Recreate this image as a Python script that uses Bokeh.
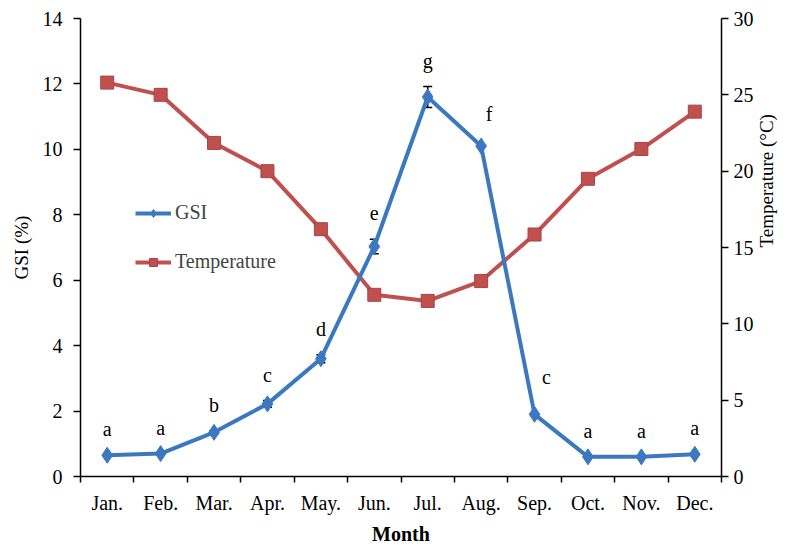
import math
import numpy as np
from bokeh.plotting import figure
from bokeh.models import (Range1d, LinearAxis, FixedTicker, ColumnDataSource, Whisker,
                          TeeHead, LabelSet, Legend, LegendItem, Label)
from bokeh.embed import file_html
from bokeh.resources import INLINE

# ---- data ----
months = ["Jan.", "Feb.", "Mar.", "Apr.", "May.", "Jun.", "Jul.", "Aug.", "Sep.", "Oct.", "Nov.", "Dec."]
gsi = [0.65, 0.70, 1.35, 2.22, 3.60, 7.03, 11.60, 10.10, 1.90, 0.60, 0.60, 0.68]
gsi_err = [0.0, 0.0, 0.05, 0.10, 0.12, 0.22, 0.32, 0.0, 0.0, 0.0, 0.0, 0.0]
temperature = [25.8, 25.0, 21.85, 20.0, 16.2, 11.9, 11.5, 12.8, 15.85, 19.5, 21.45, 23.9]
letters = ["a", "a", "b", "c", "d", "e", "g", "f", "c", "a", "a", "a"]

# ---- styling ----
FONT = "Liberation Serif"
BLUE = "#3C78C0"
RED = "#C0504D"
label_dx = [0, 0, 0, 0, 0, 0, 0, 8, 12, 0, 0, 0]
label_dy = [19, 19, 19, 19, 19, 19, 19, 25, 30, 19, 19, 19]

x = np.arange(len(months)) + 0.5
src = ColumnDataSource(dict(
    x=x, gsi=gsi, temp=temperature, err=gsi_err,
    lo=np.array(gsi) - np.array(gsi_err), hi=np.array(gsi) + np.array(gsi_err),
    letter=letters, dx=label_dx, dy=label_dy,
))

W, H = 790, 547
p = figure(width=W, height=H, output_backend="svg", toolbar_location=None,
           x_range=Range1d(0, 12), y_range=Range1d(0, 14),
           min_border_left=80, min_border_right=W - 722, min_border_top=18,
           min_border_bottom=H - 478)
p.extra_y_ranges = {"temp": Range1d(0, 30)}
p.outline_line_color = None
p.grid.grid_line_color = None
p.background_fill_color = "white"

# temperature
tl = p.line("x", "temp", source=src, y_range_name="temp", line_color=RED, line_width=4)
ts = p.scatter("x", "temp", source=src, y_range_name="temp", marker="square", size=13,
               fill_color=RED, line_color="#A94442")
# gsi
gl = p.line("x", "gsi", source=src, line_color=BLUE, line_width=4)
wh = Whisker(source=src, base="x", upper="hi", lower="lo", line_color="black", line_width=1.5,
             upper_head=TeeHead(size=9, line_color="black", line_width=1.5),
             lower_head=TeeHead(size=9, line_color="black", line_width=1.5))
p.add_layout(wh)
gs = p.scatter("x", "gsi", source=src, marker="diamond", size=16, fill_color=BLUE, line_color=BLUE)

labels = LabelSet(x="x", y="hi", text="letter", source=src, x_offset="dx", y_offset="dy",
                  text_align="center", text_baseline="alphabetic",
                  text_font=FONT, text_font_size="20px", text_color="black")
p.add_layout(labels)

# axes
xa = p.xaxis[0]
xa.ticker = FixedTicker(ticks=list(x), minor_ticks=list(range(13)))
xa.major_label_overrides = {float(v): m for v, m in zip(x, months)}
xa.major_tick_out = 0
xa.major_tick_in = 0
xa.minor_tick_out = 6
xa.minor_tick_in = 0
xa.axis_label = "Month"

ya = p.yaxis[0]
ya.ticker = FixedTicker(ticks=list(range(0, 15, 2)))
ya.axis_label = "GSI (%)"

ra = LinearAxis(y_range_name="temp", ticker=FixedTicker(ticks=list(range(0, 31, 5))))
p.add_layout(ra, "right")

for ax in [xa, ya, ra]:
    ax.axis_line_color = "black"
    ax.axis_line_width = 1.5
    ax.major_tick_line_color = "black"
    ax.minor_tick_line_color = "black"
    ax.major_tick_line_width = 1.5
    ax.minor_tick_line_width = 1.5
    ax.major_label_text_font = FONT
    ax.major_label_text_font_size = "20px"
    ax.major_label_text_color = "black"
    ax.axis_label_text_font = FONT
    ax.axis_label_text_font_size = "19px"
    ax.axis_label_text_color = "black"
    ax.axis_label_text_font_style = "normal"
xa.axis_label_text_font_style = "bold"
xa.axis_label_text_font_size = "20px"
for ax in [ya, ra]:
    ax.minor_tick_line_color = None
    ax.major_tick_out = 7
    ax.major_tick_in = 0
ya.major_label_standoff = 11
ra.major_label_standoff = 5
xa.major_label_standoff = 9
ya.axis_label_standoff = 8
xa.axis_label_standoff = 6

TEMP_TITLE = "Temperature (°C)"
if "axis_label_orientation" in ra.properties():
    ra.axis_label = TEMP_TITLE
    ra.axis_label_orientation = math.pi / 2
    ra.axis_label_standoff = 10
else:
    p.add_layout(Label(x=W - 14, y=(H) / 2, x_units="screen", y_units="screen",
                       text=TEMP_TITLE, angle=math.pi / 2, text_align="center",
                       text_baseline="middle", text_font=FONT, text_font_size="19px"))

legend = Legend(items=[LegendItem(label="GSI", renderers=[gl, gs]),
                       LegendItem(label="Temperature", renderers=[tl, ts])],
                location=(55, 203), orientation="vertical",
                background_fill_alpha=0, border_line_color=None,
                label_text_font=FONT, label_text_font_size="20px",
                glyph_width=36, glyph_height=20, label_height=20, spacing=26,
                padding=0, margin=0, label_standoff=4)
p.add_layout(legend)

open("out.html", "w").write(file_html(p, INLINE))
